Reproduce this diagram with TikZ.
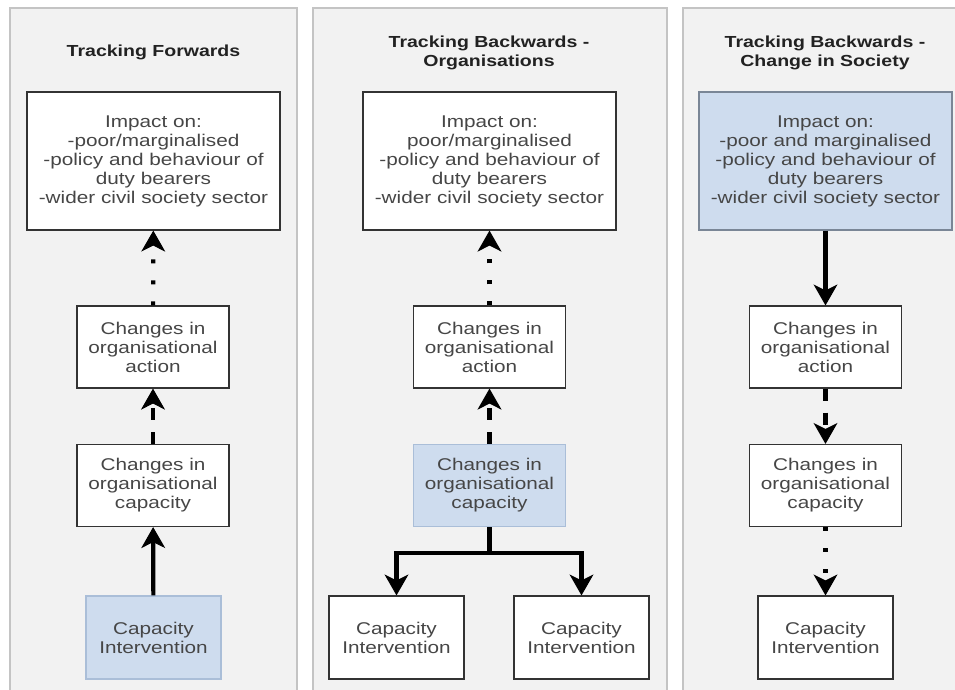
\documentclass[tikz,border=0pt]{standalone}
\usepackage{fontspec}
\setmainfont[FakeStretch=1.22]{Liberation Sans}
\usepackage{xcolor}
\usepackage{tikz}
\usetikzlibrary{arrows.meta}

\definecolor{panelfill}{RGB}{242,242,242}
\definecolor{paneldraw}{RGB}{196,196,196}
\definecolor{boxtext}{RGB}{70,70,70}
\definecolor{titletext}{RGB}{34,34,34}
\definecolor{bluefill}{RGB}{206,220,238}
\definecolor{bluedraw}{RGB}{170,190,216}
\definecolor{bluedrawdark}{RGB}{122,134,150}

\tikzset{
  panel/.style={fill=panelfill, draw=paneldraw, line width=1.5pt},
  paneltitle/.style={font=\bfseries\fontsize{16}{19}\selectfont, text=titletext, align=center},
  flowbox/.style={draw=black!80, fill=white, line width=1.2pt, inner sep=0pt, align=center,
    font=\fontsize{17}{19}\selectfont, text=boxtext},
  impactbox/.style={flowbox, minimum width=253pt, minimum height=138pt},
  midbox/.style={flowbox, minimum width=152pt, minimum height=82pt},
  startbox/.style={flowbox, minimum width=135pt, minimum height=83pt},
  bluebox/.style={fill=bluefill, draw=bluedraw},
  flowlink/.style={line width=4.2pt, -{Stealth[length=21pt, width=24pt, inset=6pt, line width=1pt]}},
  dashlink/.style={flowlink, dash pattern=on 12pt off 12pt},
  dotlink/.style={flowlink, dash pattern=on 4pt off 17pt},
}

\begin{document}
\begin{tikzpicture}[x=1pt, y=-1pt]
            \clip (0,0) rectangle (955,689);
            
            % Drawing the three panels
            \draw [panel] (10,8) rectangle (297,700);%
            \draw [panel] (313,8) rectangle (667,700);%
            \draw [panel] (683,8) rectangle (965,700);%
            
            % Marking panel titles
            \node [paneltitle] (title1) at (153.5,52) {Tracking Forwards};%
            \node [paneltitle] (title2) at (489,52.5) {Tracking Backwards -\\Organisations};%
            \node [paneltitle] (title3) at (825,52.5) {Tracking Backwards -\\Change in Society};%
            
            % Panel 1: tracking forwards
            \node [impactbox] (imp1) at (153.5,161) {Impact on:\\-poor/marginalised\\-policy and behaviour of\\duty bearers\\-wider civil society sector};%
            \node [midbox] (act1) at (153,347) {Changes in\\organisational\\action};%
            \node [midbox] (cap1) at (153,485.5) {Changes in\\organisational\\capacity};%
            \node [startbox, bluebox] (int1) at (153.5,637.5) {Capacity\\Intervention};%
            \draw [flowlink] (int1) -- (cap1);%
            \draw [dashlink] (cap1) -- (act1);%
            \draw [dotlink] (act1) -- (imp1);%
            
            % Panel 2: tracking backwards, organisations
            \node [impactbox] (imp2) at (489.5,161) {Impact on:\\poor/marginalised\\-policy and behaviour of\\duty bearers\\-wider civil society sector};%
            \node [midbox] (act2) at (489.5,347) {Changes in\\organisational\\action};%
            \node [midbox, bluebox] (cap2) at (489.5,485.5) {Changes in\\organisational\\capacity};%
            \node [startbox] (int2a) at (396.5,637.5) {Capacity\\Intervention};%
            \node [startbox] (int2b) at (581.5,637.5) {Capacity\\Intervention};%
            \coordinate (fork) at (489.5,553);%
            \draw [dashlink] (cap2) -- (act2);%
            \draw [dotlink] (act2) -- (imp2);%
            \draw [flowlink] (cap2.south) -- (fork) -| (int2a);%
            \draw [flowlink] (fork) -| (int2b);%
            
            % Panel 3: tracking backwards, change in society
            \node [impactbox, bluebox, draw=bluedrawdark] (imp3) at (825.5,161) {Impact on:\\-poor and marginalised\\-policy and behaviour of\\duty bearers\\-wider civil society sector};%
            \node [midbox] (act3) at (825.5,347) {Changes in\\organisational\\action};%
            \node [midbox] (cap3) at (825.5,485.5) {Changes in\\organisational\\capacity};%
            \node [startbox] (int3) at (825.5,637.5) {Capacity\\Intervention};%
            \draw [flowlink] (imp3) -- (act3);%
            \draw [dashlink] (act3) -- (cap3);%
            \draw [dotlink] (cap3) -- (int3);%
\end{tikzpicture}
\end{document}
